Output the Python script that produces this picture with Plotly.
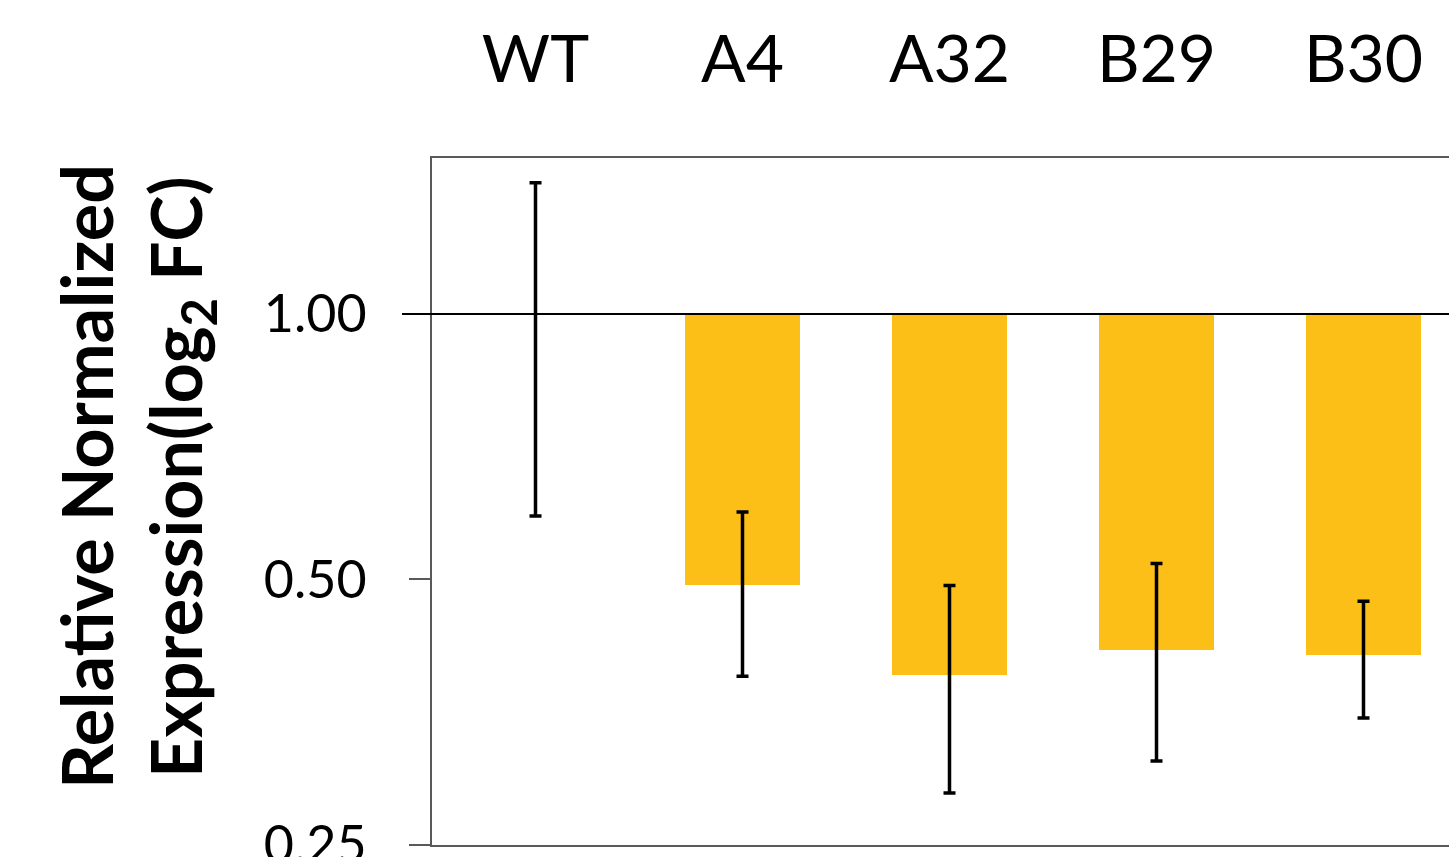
import plotly.graph_objects as go

# Relative expression per line (fold change, WT = 1) and its error
categories = ["WT", "A4", "A32", "B29", "B30"]
expression = [1.00, 0.492, 0.389, 0.416, 0.410]
error = [0.41, 0.104, 0.103, 0.105, 0.062]

y_tickvals = [0.25, 0.50, 1.00]
y_ticktext = ["0.25", "0.50", "1.00"]

BAR_COLOR = "#FCBF17"
FRAME = "#595959"
FONT = "Lato"

W, H = 1449, 857
M_L, M_T, M_B, M_R = 432, 158, 12, 0
slot_px = 207  # width of one category slot
plot_w = W - M_L - M_R
plot_h = H - M_T - M_B

fig = go.Figure()

# bars hang down from the baseline at 1.0
fig.add_trace(go.Bar(
    x=categories,
    y=[v - 1 for v in expression],
    base=[1] * len(categories),
    marker=dict(color=BAR_COLOR, line=dict(width=0)),
    width=0.556,
    showlegend=False,
    hoverinfo="skip",
))

# error bars centred on each value
fig.add_trace(go.Scatter(
    x=categories,
    y=expression,
    mode="markers",
    marker=dict(size=1, opacity=0),
    error_y=dict(type="data", array=error, visible=True,
                 color="black", thickness=3.5, width=6),
    showlegend=False,
    hoverinfo="skip",
))

title_y = (H - M_B - 477) / plot_h

fig.update_layout(
    width=W, height=H,
    margin=dict(l=M_L, r=M_R, t=M_T, b=M_B, pad=0, autoexpand=False),
    paper_bgcolor="white", plot_bgcolor="white",
    font=dict(family=FONT, color="black"),
    bargap=0,
    xaxis=dict(
        type="category",
        side="top",
        range=[-0.5, -0.5 + plot_w / slot_px],
        showline=True, linecolor=FRAME, linewidth=2, mirror=True,
        showgrid=False, ticks="",
        tickfont=dict(family=FONT, size=66, color="black"),
        ticklabelstandoff=48,
        automargin=False,
        fixedrange=True,
    ),
    yaxis=dict(
        type="log",
        range=[-0.6026, 0.1772],
        tickvals=y_tickvals, ticktext=y_ticktext,
        showline=True, linecolor=FRAME, linewidth=2,
        ticks="outside", ticklen=21, tickwidth=2, tickcolor=FRAME,
        showgrid=False, zeroline=False,
        tickfont=dict(family=FONT, size=52, color="black"),
        ticklabelstandoff=32,
        ticklabeloverflow="allow",
        automargin=False,
        fixedrange=True,
    ),
    shapes=[dict(
        type="line", xref="paper", yref="y",
        x0=-30 / plot_w, x1=1, y0=1, y1=1,
        line=dict(color="black", width=2),
    )],
    annotations=[
        dict(text="<b>Relative Normalized</b>", xref="paper", yref="paper",
             x=(86 - M_L) / plot_w, y=title_y,
             textangle=-90, showarrow=False, xanchor="center", yanchor="middle",
             font=dict(family=FONT, size=70, color="black")),
        dict(text="<b>Expression(log<sub>2</sub> FC)</b>", xref="paper", yref="paper",
             x=(180 - M_L) / plot_w, y=title_y,
             textangle=-90, showarrow=False, xanchor="center", yanchor="middle",
             font=dict(family=FONT, size=70, color="black")),
    ],
)

fig.write_html("out.html", config={"displayModeBar": False})
